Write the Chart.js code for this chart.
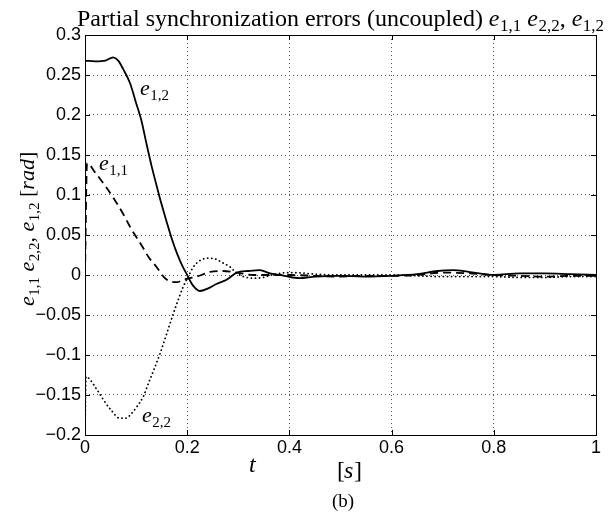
<!DOCTYPE html>
<html>
<head>
<meta charset="UTF-8">
<title>Partial synchronization errors</title>
<script src="https://cdn.jsdelivr.net/npm/chart.js@4.4.1/dist/chart.umd.min.js"></script>
<style>
  html, body { margin: 0; padding: 0; background: #fff; }
  #wrap { width: 611px; height: 514px; position: relative; }
</style>
</head>
<body>
<div id="wrap"><canvas id="chart" width="611" height="514"></canvas></div>
<script>
// values (t in s, errors in rad)
var tE12 = [0, 0.02, 0.04, 0.055, 0.065, 0.075, 0.088, 0.1, 0.11, 0.12, 0.13, 0.14, 0.15, 0.16, 0.17, 0.18, 0.19, 0.2, 0.21, 0.225, 0.24, 0.258, 0.277, 0.297, 0.32, 0.342, 0.362, 0.39, 0.42, 0.45, 0.5, 0.55, 0.6, 0.65, 0.69, 0.72, 0.75, 0.8, 0.85, 0.9, 0.95, 1];
var e12 = [0.268, 0.267, 0.268, 0.272, 0.268, 0.257, 0.24, 0.215, 0.194, 0.165, 0.137, 0.112, 0.088, 0.066, 0.045, 0.027, 0.012, 0.0, -0.012, -0.02, -0.017, -0.011, -0.006, 0.003, 0.005, 0.006, 0.002, -0.001, -0.004, -0.002, -0.001, -0.002, -0.001, 0.001, 0.005, 0.006, 0.004, 0.0, 0.002, 0.002, 0.001, 0.0];

var tE11 = [0, 0.004, 0.02, 0.04, 0.06, 0.075, 0.09, 0.108, 0.125, 0.14, 0.155, 0.166, 0.18, 0.192, 0.205, 0.218, 0.232, 0.245, 0.27, 0.297, 0.33, 0.356, 0.4, 0.45, 0.5, 0.55, 0.6, 0.65, 0.7, 0.75, 0.8, 0.85, 0.9, 0.95, 1];
var e11 = [0, 0.14, 0.128, 0.111, 0.092, 0.076, 0.058, 0.04, 0.022, 0.01, -0.003, -0.008, -0.009, -0.006, -0.004, -0.002, 0.001, 0.004, 0.005, 0.003, 0.0, 0.0, 0.0, -0.001, -0.002, -0.001, -0.001, 0.0, 0.003, 0.002, 0.0, -0.001, -0.002, -0.001, -0.001];

var tE22 = [0, 0.002, 0.01, 0.025, 0.036, 0.05, 0.068, 0.08, 0.09, 0.1, 0.114, 0.125, 0.135, 0.147, 0.16, 0.173, 0.183, 0.192, 0.202, 0.212, 0.225, 0.24, 0.255, 0.27, 0.284, 0.297, 0.316, 0.335, 0.349, 0.365, 0.38, 0.41, 0.45, 0.5, 0.55, 0.6, 0.65, 0.7, 0.75, 0.8, 0.85, 0.9, 0.95, 1];
var e22 = [-0.2, -0.127, -0.131, -0.145, -0.156, -0.168, -0.179, -0.179, -0.174, -0.166, -0.152, -0.134, -0.118, -0.098, -0.073, -0.048, -0.03, -0.015, -0.002, 0.01, 0.018, 0.021, 0.02, 0.015, 0.01, 0.002, -0.003, -0.004, -0.003, 0.0, 0.002, 0.003, 0.001, 0.0, 0.0, 0.0, -0.001, -0.002, -0.002, -0.002, -0.003, -0.003, -0.002, -0.002];

var xTicks = [0, 0.2, 0.4, 0.6, 0.8, 1];
var yTicks = [-0.2, -0.15, -0.1, -0.05, 0, 0.05, 0.1, 0.15, 0.2, 0.25, 0.3];

function pts(ts, vs) {
  return ts.map(function (t, i) { return { x: t, y: vs[i] }; });
}

var serif = '"Liberation Serif", "DejaVu Serif", serif';

// italic e with a subscript, returns the x after it
function drawE(ctx, x, y, sub, size) {
  ctx.font = 'italic ' + size + 'px ' + serif;
  ctx.fillText('e', x, y);
  x += ctx.measureText('e').width + 0.5;
  var ss = Math.round(size * 0.7);
  ctx.font = ss + 'px ' + serif;
  ctx.fillText(sub, x, y + size * 0.22);
  return x + ctx.measureText(sub).width;
}

function plain(ctx, x, y, s, size, italic) {
  ctx.font = (italic ? 'italic ' : '') + size + 'px ' + serif;
  ctx.fillText(s, x, y);
  return x + ctx.measureText(s).width;
}

var frame = {
  id: 'frame',
  afterDraw: function (chart) {
    var ctx = chart.ctx, a = chart.chartArea;
    var xs = chart.scales.x, ys = chart.scales.y;
    ctx.save();
    ctx.strokeStyle = '#000';
    ctx.lineWidth = 1;
    ctx.strokeRect(Math.round(a.left) + 0.5, Math.round(a.top) + 0.5, Math.round(a.right - a.left), Math.round(a.bottom - a.top));
    ctx.beginPath();
    xTicks.forEach(function (v) {
      var px = Math.round(xs.getPixelForValue(v)) + 0.5;
      ctx.moveTo(px, a.bottom); ctx.lineTo(px, a.bottom - 5);
      ctx.moveTo(px, a.top); ctx.lineTo(px, a.top + 5);
    });
    yTicks.forEach(function (v) {
      var py = Math.round(ys.getPixelForValue(v)) + 0.5;
      ctx.moveTo(a.left, py); ctx.lineTo(a.left + 5, py);
      ctx.moveTo(a.right, py); ctx.lineTo(a.right - 5, py);
    });
    ctx.stroke();

    ctx.fillStyle = '#000';
    ctx.textBaseline = 'alphabetic';
    ctx.textAlign = 'left';

    // title
    var tSize = 24;
    var x = 77, y = 26;
    x = plain(ctx, x, y, 'Partial synchronization errors (uncoupled) ', tSize);
    x = drawE(ctx, x, y, '1,1', tSize);
    x = plain(ctx, x, y, ' ', tSize);
    x = drawE(ctx, x, y, '2,2', tSize);
    x = plain(ctx, x, y, ', ', tSize);
    drawE(ctx, x, y, '1,2', tSize);

    // curve labels
    drawE(ctx, 140, 95, '1,2', 22);
    drawE(ctx, 99, 170, '1,1', 22);
    drawE(ctx, 142, 422, '2,2', 22);

    // x axis label
    plain(ctx, 249, 472, 't', 24, true);
    plain(ctx, 337, 478, '[', 24);
    plain(ctx, 344, 478, 's', 24, true);
    plain(ctx, 354, 478, ']', 24);
    plain(ctx, 332, 507, '(b)', 19);

    // y axis label, rotated
    ctx.save();
    ctx.translate(34, 306);
    ctx.rotate(-Math.PI / 2);
    var lx = 0;
    lx = drawE(ctx, lx, 0, '1,1', 22);
    lx = plain(ctx, lx, 0, ' ', 22);
    lx = drawE(ctx, lx, 0, '2,2', 22);
    lx = plain(ctx, lx, 0, ', ', 22);
    lx = drawE(ctx, lx, 0, '1,2', 22);
    lx = plain(ctx, lx, 0, ' [', 22);
    lx = plain(ctx, lx, 0, 'rad', 22, true);
    plain(ctx, lx, 0, ']', 22);
    ctx.restore();
    ctx.restore();
  }
};

var tickFont = { family: '"Liberation Sans", Arial, sans-serif', size: 18 };

var ctx = document.getElementById('chart').getContext('2d');
new Chart(ctx, {
  type: 'line',
  data: {
    datasets: [
      { label: 'e12', data: pts(tE12, e12), borderColor: '#000', borderWidth: 1.8, pointRadius: 0, cubicInterpolationMode: 'monotone', fill: false },
      { label: 'e11', data: pts(tE11, e11), borderColor: '#000', borderWidth: 1.8, borderDash: [8, 5], pointRadius: 0, cubicInterpolationMode: 'monotone', fill: false },
      { label: 'e22', data: pts(tE22, e22), borderColor: '#000', borderWidth: 1.8, borderDash: [0.1, 4], borderCapStyle: 'round', pointRadius: 0, cubicInterpolationMode: 'monotone', fill: false }
    ]
  },
  options: {
    responsive: false,
    animation: false,
    layout: { padding: { left: 0, right: 15, top: 35, bottom: 0 } },
    plugins: { legend: { display: false }, tooltip: { enabled: false }, title: { display: false } },
    scales: {
      x: {
        type: 'linear', min: 0, max: 1,
        afterBuildTicks: function (s) { s.ticks = xTicks.map(function (v) { return { value: v }; }); },
        afterFit: function (s) { s.height = 79; },
        ticks: { color: '#000', padding: 2, maxRotation: 0, font: tickFont, callback: function (v) { return String(v); } },
        grid: { color: '#555', lineWidth: 1, drawTicks: false },
        border: { display: false, dash: [1, 3] }
      },
      y: {
        type: 'linear', min: -0.2, max: 0.3,
        afterBuildTicks: function (s) { s.ticks = yTicks.map(function (v) { return { value: v }; }); },
        afterFit: function (s) { s.width = 85; },
        ticks: { color: '#000', padding: 4, font: tickFont, callback: function (v) { return String(Math.round(v * 100) / 100).replace('-', '\u2212'); } },
        grid: { color: '#555', lineWidth: 1, drawTicks: false },
        border: { display: false, dash: [1, 3] }
      }
    }
  },
  plugins: [frame]
});
</script>
</body>
</html>
